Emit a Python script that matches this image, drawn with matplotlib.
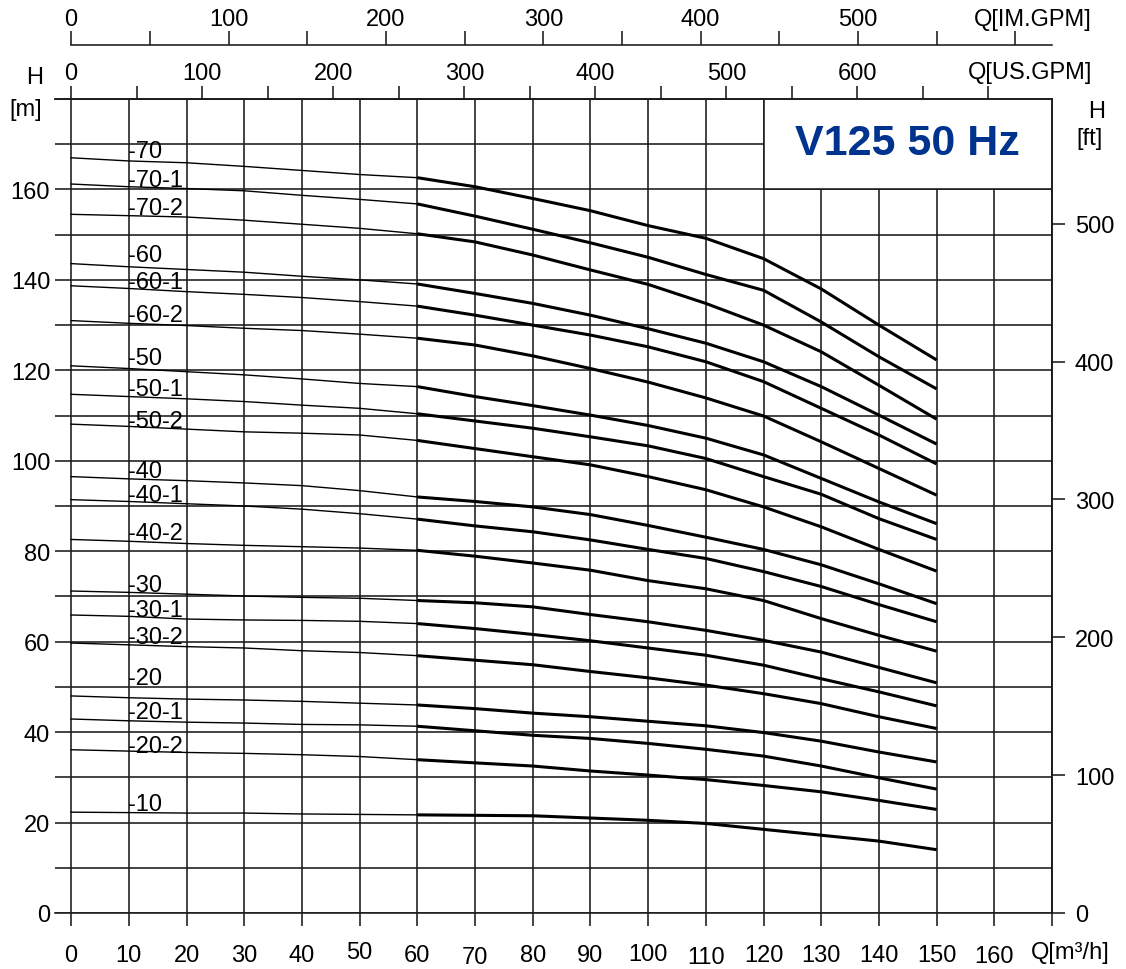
import numpy as np
import matplotlib
matplotlib.use('Agg')
import matplotlib.pyplot as plt
from matplotlib.patches import Rectangle
import matplotlib.transforms as mtransforms

plt.rcParams['font.family'] = ['Liberation Sans', 'DejaVu Sans']

# ---------------- data ----------------
q_points = [0, 10, 20, 30, 40, 50, 60, 70, 80, 90, 100, 110, 120, 130, 140, 150]

h_70   = [167.0, 166.3, 165.9, 165.1, 164.2, 163.3, 162.6, 160.6, 158.0, 155.3, 152.0, 149.2, 144.7, 138.0, 130.0, 122.3]
h_70_1 = [161.2, 160.6, 160.2, 159.7, 158.7, 157.8, 156.8, 154.1, 151.2, 148.2, 145.0, 141.2, 137.7, 130.7, 123.0, 115.9]
h_70_2 = [154.5, 154.2, 153.9, 153.2, 152.3, 151.4, 150.2, 148.4, 145.5, 142.2, 139.0, 134.8, 130.0, 124.1, 116.7, 109.2]
h_60   = [143.6, 142.9, 142.3, 141.7, 140.8, 140.0, 139.1, 137.0, 134.8, 132.2, 129.2, 126.0, 121.9, 116.4, 110.1, 103.7]
h_60_1 = [138.7, 138.1, 137.4, 136.8, 136.1, 135.2, 134.2, 132.2, 130.0, 127.8, 125.2, 121.9, 117.5, 111.6, 105.7, 99.3]
h_60_2 = [131.0, 130.4, 129.9, 129.3, 128.8, 128.0, 127.1, 125.6, 123.2, 120.4, 117.4, 113.9, 109.9, 104.2, 98.3, 92.4]
h_50   = [121.0, 120.4, 119.7, 119.0, 118.1, 117.1, 116.4, 114.2, 112.2, 110.1, 107.8, 105.0, 101.3, 96.1, 90.9, 86.1]
h_50_1 = [114.7, 114.2, 113.7, 113.1, 112.3, 111.6, 110.4, 108.8, 107.2, 105.3, 103.3, 100.5, 96.5, 92.6, 87.2, 82.6]
h_50_2 = [108.1, 107.6, 107.0, 106.4, 106.1, 105.7, 104.5, 102.7, 100.9, 99.1, 96.5, 93.6, 89.8, 85.4, 80.4, 75.6]
h_40   = [96.5, 96.0, 95.6, 95.1, 94.5, 93.4, 92.0, 91.0, 89.8, 88.1, 85.7, 83.1, 80.4, 77.0, 72.8, 68.4]
h_40_1 = [91.4, 91.0, 90.5, 90.0, 89.3, 88.3, 87.1, 85.6, 84.3, 82.5, 80.4, 78.4, 75.5, 72.2, 68.2, 64.4]
h_40_2 = [82.6, 82.2, 81.7, 81.3, 81.0, 80.7, 80.2, 78.9, 77.4, 75.8, 73.5, 71.7, 69.1, 65.1, 61.4, 57.9]
h_30   = [71.2, 70.9, 70.5, 70.1, 69.8, 69.6, 69.1, 68.6, 67.7, 66.0, 64.4, 62.5, 60.3, 57.7, 54.3, 50.9]
h_30_1 = [65.9, 65.6, 65.0, 64.8, 64.7, 64.5, 64.0, 62.9, 61.6, 60.2, 58.6, 57.0, 54.8, 51.8, 48.9, 45.8]
h_30_2 = [59.7, 59.3, 58.9, 58.6, 58.0, 57.6, 56.9, 55.9, 54.9, 53.4, 52.0, 50.4, 48.5, 46.3, 43.4, 40.8]
h_20   = [48.0, 47.6, 47.3, 47.1, 46.8, 46.4, 46.0, 45.2, 44.2, 43.4, 42.4, 41.4, 39.9, 38.0, 35.6, 33.4]
h_20_1 = [42.9, 42.5, 42.2, 42.0, 41.7, 41.6, 41.3, 40.3, 39.3, 38.6, 37.5, 36.2, 34.7, 32.5, 29.9, 27.4]
h_20_2 = [36.1, 35.8, 35.5, 35.3, 35.0, 34.6, 33.9, 33.2, 32.5, 31.4, 30.5, 29.5, 28.2, 26.8, 24.9, 22.9]
h_10   = [22.3, 22.2, 22.1, 22.1, 21.9, 21.8, 21.7, 21.6, 21.5, 21.0, 20.5, 19.8, 18.5, 17.2, 15.9, 14.0]

curve_labels = ['-70', '-70-1', '-70-2', '-60', '-60-1', '-60-2', '-50', '-50-1', '-50-2',
                '-40', '-40-1', '-40-2', '-30', '-30-1', '-30-2', '-20', '-20-1', '-20-2', '-10']
curve_values = [h_70, h_70_1, h_70_2, h_60, h_60_1, h_60_2, h_50, h_50_1, h_50_2,
                h_40, h_40_1, h_40_2, h_30, h_30_1, h_30_2, h_20, h_20_1, h_20_2, h_10]
label_heights = [168.5, 162.0, 155.8, 145.5, 139.6, 132.2, 122.8, 115.9, 108.8,
                 97.8, 92.5, 84.0, 72.6, 66.9, 61.1, 51.9, 44.4, 36.9, 24.0]

x_ticks = list(range(0, 171, 10))
x_tick_labels = [str(v) for v in range(0, 161, 10)] + ['']
y_ticks = list(range(0, 161, 20))
y_minor = list(range(10, 181, 20)) + [180]
ft_ticks = [0, 100, 200, 300, 400, 500]
us_ticks = list(range(0, 751, 50))
us_labels = [str(v) if (v % 100 == 0 and v <= 600) else '' for v in us_ticks]
im_ticks = list(range(0, 601, 50))
im_labels = [str(v) if (v % 100 == 0 and v <= 500) else '' for v in im_ticks]
title = 'V125 50 Hz'

M3H_PER_USGPM = 0.2271247
M3H_PER_IMGPM = 0.2727655
FT_PER_M = 3.28084

FS = 17

# ---------------- figure ----------------
W, H = 1126, 970
fig = plt.figure(figsize=(W / 100, H / 100), dpi=100)
L, R, T, B = 55, 1052, 100, 914
ax = fig.add_axes([L / W, 1 - B / H, (R - L) / W, (B - T) / H])
ax.set_xlim(-2.8, 170)
ax.set_ylim(0, 180)

gc = '#1a1a1a'
glw = 1.15
ax.set_axisbelow(True)
ax.set_xticks(x_ticks)
ax.set_xticklabels(x_tick_labels)
ax.set_yticks(y_ticks)
ax.set_yticks(y_minor, minor=True)
ax.grid(which='both', color=gc, lw=glw)
ax.tick_params(axis='x', which='major', length=9.5, width=glw, color=gc,
               direction='out', pad=13, labelsize=FS)
ax.tick_params(axis='y', which='both', length=0, pad=3.5, labelsize=FS)
ax.spines['left'].set_visible(False)
for s in ['top', 'right', 'bottom']:
    ax.spines[s].set_color(gc)
    ax.spines[s].set_linewidth(glw)

# small vertical jitter of bottom labels as in the original
jitter = {50: -3.5, 70: 1.5, 110: 1.5, 160: 1.0, 100: -1}
for tk, val in zip(ax.xaxis.get_major_ticks(), x_ticks):
    if val in jitter:
        off = mtransforms.ScaledTranslation(0, -jitter[val] / 100, fig.dpi_scale_trans)
        tk.label1.set_transform(tk.label1.get_transform() + off)

# title box
ax.add_patch(Rectangle((120, 160), 50, 20, facecolor='white', edgecolor=gc, lw=glw, zorder=1.5))
ax.text(145, 170.2, title, ha='center', va='center', fontsize=31, fontweight='bold',
        color='#00338d', zorder=3)

# curves
for lab, vals, ly in zip(curve_labels, curve_values, label_heights):
    ax.plot(q_points[:7], vals[:7], color='black', lw=1.0, zorder=2)
    ax.plot(q_points[6:], vals[6:], color='black', lw=2.2, zorder=2,
            solid_joinstyle='round', solid_capstyle='butt')
    ax.text(9.8, ly, lab, ha='left', va='center', fontsize=FS, zorder=3)

# US GPM axis (top)
us = ax.secondary_xaxis('top', functions=(lambda q: q / M3H_PER_USGPM, lambda g: g * M3H_PER_USGPM))
us.set_xticks(us_ticks)
us.set_xticklabels(us_labels)
us.tick_params(length=9.5, width=glw, color=gc, pad=1.5, labelsize=FS)
us.spines['top'].set_color(gc)
us.spines['top'].set_linewidth(glw)

# IM GPM axis (higher)
im = ax.secondary_xaxis(1.0663, functions=(lambda q: q / M3H_PER_IMGPM, lambda g: g * M3H_PER_IMGPM))
im.set_xticks(im_ticks)
im.set_xticklabels(im_labels)
im.tick_params(length=10, width=glw, color=gc, pad=0.5, labelsize=FS)
im.spines['top'].set_color(gc)
im.spines['top'].set_linewidth(glw)
im.spines['top'].set_bounds(0, 170 / M3H_PER_IMGPM)

# ft axis (right)
ftax = ax.secondary_yaxis('right', functions=(lambda m: m * FT_PER_M, lambda f: f / FT_PER_M))
ftax.set_yticks(ft_ticks)
ftax.tick_params(length=9.5, width=glw, color=gc, pad=7, labelsize=FS)
ftax.spines['right'].set_color(gc)
ftax.spines['right'].set_linewidth(glw)

# axis titles
def ftext(x, y, s, **kw):
    fig.text(x / W, 1 - y / H, s, fontsize=FS, **kw)

ftext(35, 78, 'H', ha='center', va='center')
ftext(26, 110, '[m]', ha='center', va='center')
ftext(1097, 112, 'H', ha='center', va='center')
ftext(1090, 139, '[ft]', ha='center', va='center')
ftext(1092, 20, 'Q[IM.GPM]', ha='right', va='center')
ftext(1092, 73, 'Q[US.GPM]', ha='right', va='center')
ftext(1110, 953, 'Q[m³/h]', ha='right', va='center')

fig.savefig('out.png', dpi=100)
